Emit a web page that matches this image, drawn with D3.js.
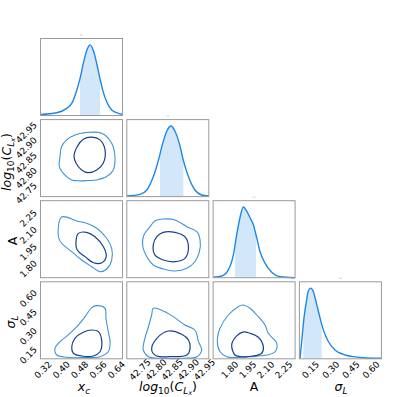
<!DOCTYPE html>
<html>
<head>
<meta charset="utf-8">
<script src="https://d3js.org/d3.v7.min.js"></script>
<style>
    body { margin: 0; background: white; }
    text { font-family: "DejaVu Sans", sans-serif; }
</style>
</head>
<body>
<div id="chart"></div>
<script>
// parameter extents and ticks
var xcDomain = [0.309, 0.666];
var logcDomain = [42.709, 42.963];
var aDomain = [1.66, 2.344];
var sigDomain = [0.066, 0.676];

var xcTicks = [0.32, 0.40, 0.48, 0.56, 0.64];
var logcTicks = [42.75, 42.80, 42.85, 42.90, 42.95];
var aTicks = [1.80, 1.95, 2.10, 2.25];
var sigTicks = [0.15, 0.30, 0.45, 0.60];

// marginal posteriors (peak normalised to 1) and shaded 68% regions
var xcGrid = [0.309, 0.380, 0.423, 0.445, 0.467, 0.481, 0.495, 0.513, 0.525, 0.539, 0.554, 0.568, 0.582, 0.597, 0.619, 0.648, 0.666];
var xcDens = [0.015, 0.039, 0.101, 0.171, 0.358, 0.522, 0.733, 0.944, 1.0, 0.92, 0.733, 0.522, 0.334, 0.194, 0.077, 0.031, 0.017];
var xcShade = [0.481, 0.568];

var logcGrid = [42.709, 42.750, 42.771, 42.791, 42.807, 42.820, 42.833, 42.846, 42.858, 42.872, 42.884, 42.900, 42.920, 42.941, 42.963];
var logcDens = [0.008, 0.032, 0.093, 0.28, 0.515, 0.75, 0.928, 1.0, 0.928, 0.75, 0.515, 0.28, 0.093, 0.023, 0.008];
var logcShade = [42.812, 42.884];

var aGrid = [1.662, 1.732, 1.787, 1.829, 1.857, 1.884, 1.912, 1.940, 1.968, 1.995, 2.024, 2.051, 2.093, 2.149, 2.218, 2.343];
var aDens = [0.006, 0.024, 0.11, 0.324, 0.61, 0.849, 1.0, 0.943, 0.849, 0.753, 0.563, 0.371, 0.206, 0.077, 0.014, 0.0];
var aShade = [1.843, 2.018];

var sigGrid = [0.0705, 0.0831, 0.1002, 0.1203, 0.1322, 0.1501, 0.1694, 0.1947, 0.2192, 0.2438, 0.281, 0.3308, 0.3926, 0.467, 0.5667, 0.676];
var sigDens = [0.007, 0.245, 0.58, 0.842, 0.961, 1.0, 0.953, 0.771, 0.58, 0.413, 0.245, 0.126, 0.064, 0.03, 0.011, 0.007];
var sigShade = [0.095, 0.232];

// 2D contours (inner = 68%, outer = 95%), points as [x, y]
var xcLogcOuter = [[0.503,42.920],[0.576,42.918],[0.619,42.885],[0.633,42.841],[0.626,42.797],[0.597,42.775],[0.554,42.764],[0.517,42.762],[0.481,42.761],[0.445,42.764],[0.416,42.780],[0.391,42.808],[0.394,42.841],[0.401,42.874],[0.423,42.896],[0.459,42.912]];
var xcLogcInner = [[0.532,42.905],[0.568,42.896],[0.590,42.863],[0.582,42.819],[0.554,42.797],[0.517,42.788],[0.488,42.797],[0.464,42.819],[0.455,42.841],[0.469,42.874],[0.495,42.898]];

var xcAOuter = [[0.401,2.199],[0.467,2.164],[0.510,2.143],[0.554,2.099],[0.597,2.010],[0.619,1.921],[0.619,1.817],[0.597,1.737],[0.568,1.713],[0.532,1.758],[0.488,1.817],[0.445,1.891],[0.401,1.966],[0.387,2.024]];
var xcAInner = [[0.474,2.054],[0.510,2.063],[0.546,2.024],[0.583,1.935],[0.595,1.847],[0.576,1.793],[0.540,1.793],[0.503,1.847],[0.469,1.906],[0.464,1.995]];

var xcSigOuter = [[0.372,0.149],[0.394,0.202],[0.430,0.255],[0.467,0.320],[0.503,0.400],[0.532,0.471],[0.554,0.487],[0.590,0.466],[0.594,0.387],[0.604,0.281],[0.612,0.202],[0.604,0.122],[0.568,0.083],[0.495,0.075],[0.423,0.078],[0.380,0.096]];
var xcSigInner = [[0.445,0.162],[0.459,0.228],[0.495,0.276],[0.532,0.294],[0.561,0.281],[0.576,0.202],[0.568,0.122],[0.539,0.088],[0.488,0.088],[0.452,0.110]];

var logcAOuter = [[42.822,2.181],[42.858,2.173],[42.895,2.113],[42.926,2.069],[42.936,1.995],[42.934,1.891],[42.920,1.802],[42.895,1.744],[42.858,1.720],[42.822,1.737],[42.791,1.773],[42.771,1.847],[42.758,1.951],[42.762,2.039],[42.781,2.113],[42.796,2.164]];
var logcAInner = [[42.822,2.063],[42.858,2.063],[42.889,2.024],[42.900,1.921],[42.889,1.832],[42.858,1.802],[42.822,1.817],[42.796,1.862],[42.791,1.951],[42.802,2.024]];

var logcSigOuter = [[42.791,0.466],[42.822,0.445],[42.853,0.400],[42.889,0.334],[42.920,0.294],[42.931,0.202],[42.941,0.136],[42.926,0.083],[42.884,0.070],[42.822,0.070],[42.776,0.083],[42.760,0.136],[42.765,0.228],[42.776,0.320],[42.786,0.413]];
var logcSigInner = [[42.802,0.228],[42.838,0.286],[42.879,0.260],[42.900,0.215],[42.905,0.149],[42.895,0.096],[42.843,0.083],[42.802,0.088],[42.786,0.136]];

var aSigOuter = [[1.909,0.492],[1.968,0.466],[2.024,0.413],[2.093,0.334],[2.120,0.268],[2.191,0.189],[2.176,0.122],[2.107,0.096],[1.968,0.083],[1.843,0.076],[1.773,0.083],[1.718,0.122],[1.695,0.202],[1.718,0.308],[1.787,0.413],[1.870,0.479]];
var aSigInner = [[1.909,0.278],[1.968,0.268],[2.035,0.239],[2.079,0.162],[2.065,0.110],[1.995,0.088],[1.884,0.084],[1.843,0.096],[1.815,0.175],[1.857,0.247]];

// ---- layout ----
var padLeft = 40.5, padTop = 38.5, pw = 82, ph = 77, stepX = 86.3, stepY = 81.1;
var lineColor = "#1E88E5", outerColor = "#3f93d9", innerColor = "#1b3f8f";

var domains = [xcDomain, logcDomain, aDomain, sigDomain];
var ticks = [xcTicks, logcTicks, aTicks, sigTicks];
var grids = [xcGrid, logcGrid, aGrid, sigGrid];
var dens = [xcDens, logcDens, aDens, sigDens];
var shades = [xcShade, logcShade, aShade, sigShade];

var contourPanels = [
    {row: 1, col: 0, outer: xcLogcOuter, inner: xcLogcInner},
    {row: 2, col: 0, outer: xcAOuter, inner: xcAInner},
    {row: 3, col: 0, outer: xcSigOuter, inner: xcSigInner},
    {row: 2, col: 1, outer: logcAOuter, inner: logcAInner},
    {row: 3, col: 1, outer: logcSigOuter, inner: logcSigInner},
    {row: 3, col: 2, outer: aSigOuter, inner: aSigInner}
];

var svg = d3.select("#chart").append("svg")
    .attr("width", 400)
    .attr("height", 397);

function xScale(i) {
    var x0 = padLeft + i * stepX;
    return d3.scaleLinear().domain(domains[i]).range([x0, x0 + pw]);
}
function yScale(i) {
    var y0 = padTop + i * stepY;
    return d3.scaleLinear().domain(domains[i]).range([y0 + ph, y0]);
}

// marginals on the diagonal
for (var i = 0; i < 4; i++) {
    var x = xScale(i);
    var y0 = padTop + i * stepY;
    var ym = d3.scaleLinear().domain([0, 1.09]).range([y0 + ph, y0]);
    var pts = grids[i].map(function(g, k) { return [g, dens[i][k]]; });

    svg.append("clipPath").attr("id", "shade" + i)
        .append("rect")
        .attr("x", x(shades[i][0]))
        .attr("y", y0)
        .attr("width", x(shades[i][1]) - x(shades[i][0]))
        .attr("height", ph);

    var area = d3.area()
        .x(function(d) { return x(d[0]); })
        .y0(ym(0))
        .y1(function(d) { return ym(d[1]); })
        .curve(d3.curveMonotoneX);
    svg.append("path")
        .attr("d", area(pts))
        .attr("fill", "rgba(30,136,229,0.2)")
        .attr("clip-path", "url(#shade" + i + ")");

    var line = d3.line()
        .x(function(d) { return x(d[0]); })
        .y(function(d) { return ym(d[1]); })
        .curve(d3.curveMonotoneX);
    svg.append("path")
        .attr("d", line(pts))
        .attr("fill", "none")
        .attr("stroke", lineColor)
        .attr("stroke-width", 1.4);

    // empty summary title mark
    svg.append("line")
        .attr("x1", padLeft + i * stepX + pw / 2 - 1.5)
        .attr("x2", padLeft + i * stepX + pw / 2 + 1.5)
        .attr("y1", y0 - 3.5).attr("y2", y0 - 3.5)
        .attr("stroke", "#ccc").attr("stroke-width", 0.8);
}

// 2D contours
contourPanels.forEach(function(p) {
    var x = xScale(p.col), y = yScale(p.row);
    var line = d3.line()
        .x(function(d) { return x(d[0]); })
        .y(function(d) { return y(d[1]); })
        .curve(d3.curveCatmullRomClosed);
    svg.append("path").attr("d", line(p.outer))
        .attr("fill", "none").attr("stroke", outerColor).attr("stroke-width", 1.1);
    svg.append("path").attr("d", line(p.inner))
        .attr("fill", "none").attr("stroke", innerColor).attr("stroke-width", 1.2);
});

// panel frames
for (var r = 0; r < 4; r++) {
    for (var c = 0; c <= r; c++) {
        svg.append("rect")
            .attr("x", padLeft + c * stepX)
            .attr("y", padTop + r * stepY)
            .attr("width", pw)
            .attr("height", ph)
            .attr("fill", "none")
            .attr("stroke", "#9a9a9a")
            .attr("stroke-width", 1);
    }
}

// x tick labels on bottom row
var fmt = d3.format(".2f");
var bottom = padTop + 3 * stepY + ph;
for (var j = 0; j < 4; j++) {
    var xs = xScale(j);
    ticks[j].forEach(function(t) {
        var tx = xs(t), ty = bottom + 11;
        svg.append("text")
            .attr("x", tx).attr("y", ty)
            .attr("text-anchor", "middle")
            .attr("dominant-baseline", "central")
            .attr("transform", "rotate(-45," + tx + "," + ty + ")")
            .style("font-size", "9px")
            .text(fmt(t));
    });
}

// y tick labels on first column
for (var k = 1; k < 4; k++) {
    var ys = yScale(k);
    ticks[k].forEach(function(t) {
        var tx = padLeft - 5, ty = ys(t);
        svg.append("text")
            .attr("x", tx).attr("y", ty)
            .attr("text-anchor", "end")
            .attr("dominant-baseline", "central")
            .attr("transform", "rotate(-45," + tx + "," + ty + ")")
            .style("font-size", "9px")
            .text(fmt(t));
    });
}

// axis titles
function addLabel(g, parts) {
    parts.forEach(function(p) {
        var ts = g.append("tspan").text(p.t);
        if (p.it) ts.style("font-style", "italic");
        if (p.size) ts.style("font-size", p.size);
        if (p.dy) ts.attr("dy", p.dy);
    });
}
var labelParts = [
    [{t: "x", it: true}, {t: "c", it: true, size: "9px", dy: "3"}],
    [{t: "log", it: true}, {t: "10", size: "9px", dy: "3"}, {t: "(", dy: "-3"}, {t: "C", it: true},
     {t: "L", it: true, size: "9px", dy: "2.5"}, {t: "x", it: true, size: "6.5px", dy: "1.5"}, {t: ")", dy: "-4"}],
    [{t: "A"}],
    [{t: "σ", it: true}, {t: "L", it: true, size: "9px", dy: "3"}]
];
var xTitlePos = [84, 168, 254, 341];
for (var j = 0; j < 4; j++) {
    var tt = svg.append("text")
        .attr("x", xTitlePos[j]).attr("y", 391)
        .attr("text-anchor", "middle")
        .style("font-size", "12.5px");
    addLabel(tt, labelParts[j]);
}
var yTitle = [null, {x: 11.2, y: 162}, {x: 16.5, y: 241}, {x: 14.5, y: 322}];
for (var k = 1; k < 4; k++) {
    var tt = svg.append("text")
        .attr("x", yTitle[k].x).attr("y", yTitle[k].y)
        .attr("text-anchor", "middle")
        .attr("transform", "rotate(-90," + yTitle[k].x + "," + yTitle[k].y + ")")
        .style("font-size", "12.5px");
    addLabel(tt, labelParts[k]);
}
</script>
</body>
</html>
